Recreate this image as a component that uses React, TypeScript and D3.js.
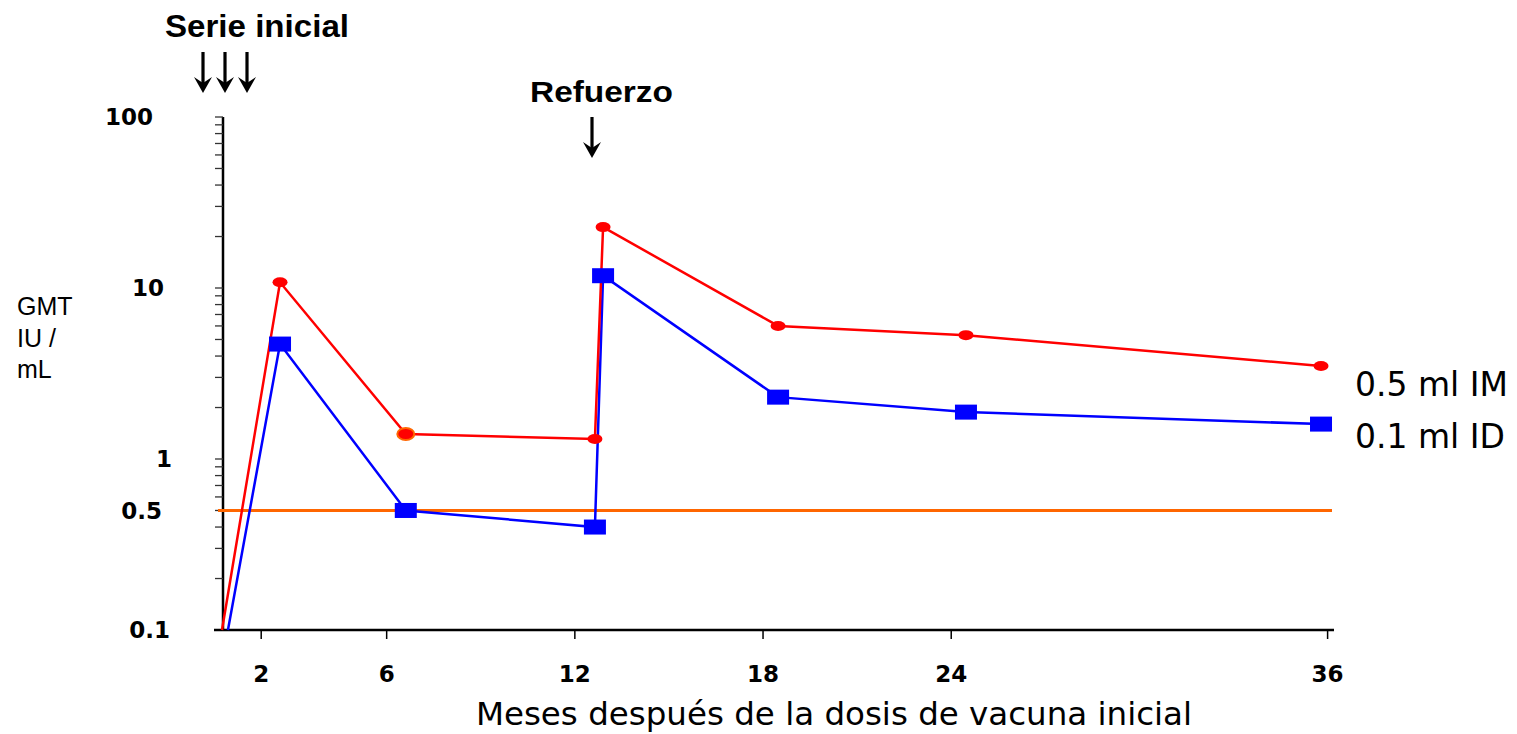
import React from "react";
import * as d3 from "d3";

// months after first dose (x), GMT IU/mL (y)
const imMonths = [0.75, 2.6, 6.61, 12.64, 12.9, 18.48, 24.47, 35.79];
const imValues = [0.1, 10.8, 1.4, 1.31, 22.7, 6.0, 5.3, 3.5];
const idMonths = [0.94, 2.6, 6.61, 12.64, 12.9, 18.48, 24.47, 35.79];
const idValues = [0.1, 4.7, 0.5, 0.4, 11.8, 2.3, 1.88, 1.6];
const xTicks = [2, 6, 12, 18, 24, 36];
const yTickLabels = ["100", "10", "1", "0.5", "0.1"];
const threshold = 0.5;
const primingDoses = [0, 1, 2];
const seriesLabels = ["0.5 ml IM", "0.1 ml ID"];

export default function App() {
  const W = 1517, H = 734;
  const x = d3.scaleLinear().domain([0.75, 36]).range([222, 1327.6]);
  const y = d3.scaleLog().domain([0.1, 100]).range([630, 117]);

  const line = d3
    .line<[number, number]>()
    .x((d) => x(d[0]))
    .y((d) => y(d[1]));

  const im = imMonths.map((m, i) => [m, imValues[i]] as [number, number]);
  const id = idMonths.map((m, i) => [m, idValues[i]] as [number, number]);

  // minor log ticks 0.1..100
  const minor = y.ticks();
  // label right edges (as in the original, not aligned)
  const labelRight: Record<string, number> = { "100": 153, "10": 164, "1": 172, "0.5": 162, "0.1": 170 };

  const verd = "'DejaVu Sans', Verdana, sans-serif";
  const arial = "'Liberation Sans', Arial, sans-serif";

  const arrow = (cx: number, y1: number, y2: number, key: string) => (
    <g key={key}>
      <line x1={cx} x2={cx} y1={y1} y2={y2 - 8} stroke="#000" strokeWidth={3.2} />
      <path d={`M${cx - 9},${y2 - 16} L${cx},${y2} L${cx + 9},${y2 - 16} L${cx},${y2 - 10} Z`} fill="#000" />
    </g>
  );

  return (
    <svg width={W} height={H} style={{ position: "absolute", left: 0, top: 0, background: "#fff" }}>
      {/* y axis */}
      <line x1={223} x2={223} y1={117} y2={631} stroke="#000" strokeWidth={2.5} />
      {minor.map((t, i) => (
        <line key={i} x1={215} x2={223} y1={y(t)} y2={y(t)} stroke="#333" strokeWidth={1.3} />
      ))}
      {yTickLabels.map((t) => (
        <text
          key={t}
          x={labelRight[t]}
          y={y(+t)}
          dy="0.36em"
          textAnchor="end"
          fontFamily={verd}
          fontWeight="bold"
          fontSize={23}
        >
          {t}
        </text>
      ))}
      <text fontFamily={arial} fontSize={25} fill="#000">
        <tspan x={17} y={315}>GMT</tspan>
        <tspan x={17} y={347}>IU /</tspan>
        <tspan x={17} y={378}>mL</tspan>
      </text>

      {/* x axis */}
      <line x1={214} x2={1334} y1={630} y2={630} stroke="#000" strokeWidth={2.5} />
      {xTicks.map((t) => (
        <g key={t} transform={`translate(${x(t)},630)`}>
          <line y1={0} y2={9} stroke="#000" strokeWidth={1.5} />
          <text y={52} textAnchor="middle" fontFamily={verd} fontWeight="bold" fontSize={23}>
            {t}
          </text>
        </g>
      ))}
      <text x={834} y={725} textAnchor="middle" fontFamily={verd} fontSize={32.5} fill="#000">
        Meses después de la dosis de vacuna inicial
      </text>

      {/* threshold */}
      <line x1={218} x2={1332} y1={y(threshold)} y2={y(threshold)} stroke="#ff6600" strokeWidth={3} />

      {/* series */}
      <path d={line(id) ?? ""} fill="none" stroke="#0000ff" strokeWidth={2.5} />
      <path d={line(im) ?? ""} fill="none" stroke="#ff0000" strokeWidth={2.5} />
      {id.slice(1).map((d, i) => (
        <rect key={i} x={x(d[0]) - 11} y={y(d[1]) - 7.5} width={22} height={15} fill="#0000ff" />
      ))}
      {im.slice(1).map((d, i) => (
        <ellipse
          key={i}
          cx={x(d[0])}
          cy={y(d[1])}
          rx={i === 1 ? 8.5 : 7.5}
          ry={i === 1 ? 6 : 5}
          fill="#ff0000"
          stroke={i === 1 ? "#ff6600" : "none"}
          strokeWidth={2}
        />
      ))}

      {/* series labels */}
      <text x={1355} y={396} fontFamily={verd} fontSize={33}>{seriesLabels[0]}</text>
      <text x={1355} y={448} fontFamily={verd} fontSize={33}>{seriesLabels[1]}</text>

      {/* annotations */}
      <text x={165} y={37} fontFamily={arial} fontWeight="bold" fontSize={31} textLength={184} lengthAdjust="spacingAndGlyphs">
        Serie inicial
      </text>
      {primingDoses.map((d) => arrow(203 + d * 22, 52, 93, "p" + d))}
      <text x={530} y={102} fontFamily={arial} fontWeight="bold" fontSize={30} textLength={143} lengthAdjust="spacingAndGlyphs">
        Refuerzo
      </text>
      {arrow(592, 117, 158, "r")}
    </svg>
  );
}
